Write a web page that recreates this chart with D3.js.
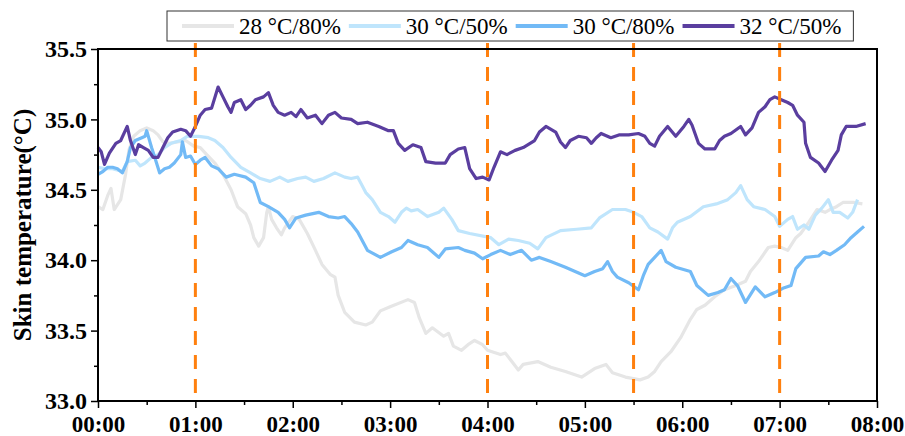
<!DOCTYPE html>
<html>
<head>
<meta charset="utf-8">
<script src="https://cdn.jsdelivr.net/npm/d3@7"></script>
<style>
  body { margin: 0; background: #fff; }
  svg text { font-family: "Liberation Serif", "Times New Roman", serif; }
</style>
</head>
<body>
<div id="chart"></div>
<script>
// time in minutes since 00:00, skin temperature in °C
const t28_80 = [0,3,6,8,10,14,17,19,22,26,30,34,37,40,44,49,54,59,63,67,72,77,82,86,91,94,96,99,102,104,105,107,110,113,115,120,124,129,134,138,143,146,148,152,158,165,169,174,180,191,195,198,202,206,213,216,219,224,228,232,237,240,248,251,255,259,262,271,279,288,298,306,313,317,325,334,339,343,347,353,359,365,369,374,380,386,393,399,402,407,413,417,421,425,430,433,438,443,448,451,455,459,463,466,471];
const v28_80 = [34.38,34.36,34.46,34.51,34.36,34.43,34.61,34.78,34.88,34.92,34.94,34.92,34.89,34.84,34.83,34.84,34.85,34.81,34.80,34.75,34.69,34.61,34.50,34.38,34.33,34.25,34.16,34.10,34.16,34.34,34.38,34.29,34.23,34.18,34.23,34.31,34.29,34.19,34.07,33.97,33.90,33.88,33.75,33.63,33.56,33.54,33.56,33.64,33.67,33.72,33.70,33.59,33.48,33.52,33.46,33.48,33.39,33.36,33.40,33.43,33.40,33.36,33.33,33.34,33.28,33.22,33.26,33.28,33.24,33.21,33.17,33.23,33.26,33.20,33.17,33.15,33.17,33.21,33.28,33.35,33.45,33.58,33.65,33.68,33.74,33.79,33.82,33.85,33.92,33.99,34.09,34.10,34.09,34.07,34.16,34.19,34.27,34.36,34.34,34.36,34.38,34.41,34.41,34.41,34.40];

const t30_50 = [0,4,9,15,18,23,26,29,33,37,41,45,51,55,62,68,72,77,82,88,94,100,106,112,117,123,128,133,139,146,152,156,160,165,169,174,179,183,187,190,193,197,203,210,213,218,222,229,242,247,253,259,266,271,276,285,295,304,309,317,325,330,335,340,345,351,354,357,365,373,381,388,393,396,400,404,411,417,420,425,428,431,435,438,442,446,450,453,457,462,465,468];
const v30_50 = [34.66,34.65,34.65,34.63,34.70,34.71,34.67,34.69,34.73,34.75,34.80,34.83,34.85,34.88,34.88,34.87,34.85,34.80,34.73,34.66,34.62,34.58,34.56,34.59,34.56,34.58,34.59,34.56,34.58,34.62,34.59,34.58,34.59,34.48,34.43,34.34,34.31,34.27,34.34,34.37,34.35,34.36,34.31,34.34,34.37,34.29,34.21,34.19,34.16,34.11,34.15,34.14,34.12,34.08,34.16,34.21,34.22,34.23,34.30,34.36,34.36,34.34,34.31,34.23,34.20,34.15,34.23,34.27,34.31,34.38,34.40,34.43,34.48,34.53,34.43,34.38,34.36,34.31,34.24,34.29,34.31,34.22,34.25,34.22,34.32,34.37,34.43,34.34,34.34,34.30,34.34,34.43];

const t30_80 = [0,3,6,9,12,15,18,20,23,27,29,30,33,35,38,41,44,47,51,52,54,57,60,63,66,70,74,79,84,91,96,100,105,111,115,118,122,128,136,142,148,152,156,160,166,174,181,187,191,197,203,210,214,222,226,232,237,242,248,254,261,267,272,279,288,294,300,306,311,314,317,320,327,333,336,339,343,347,350,356,365,369,376,382,386,390,394,399,405,411,417,422,427,430,436,444,447,451,455,460,464,468,472];
const v30_80 = [34.61,34.63,34.66,34.66,34.65,34.62,34.70,34.80,34.85,34.87,34.88,34.92,34.80,34.73,34.62,34.65,34.66,34.69,34.75,34.84,34.73,34.74,34.68,34.71,34.73,34.67,34.65,34.59,34.61,34.59,34.55,34.41,34.38,34.34,34.29,34.23,34.30,34.32,34.34,34.31,34.30,34.31,34.26,34.20,34.07,34.02,34.06,34.09,34.14,34.11,34.09,34.02,34.08,34.09,34.07,34.05,34.01,34.04,34.07,34.04,34.07,34.00,34.02,33.99,33.95,33.92,33.89,33.92,33.94,33.99,33.92,33.88,33.84,33.79,33.89,33.97,34.02,34.07,33.99,33.95,33.92,33.82,33.75,33.77,33.79,33.87,33.82,33.70,33.81,33.74,33.77,33.80,33.82,33.94,34.02,34.03,34.06,34.04,34.07,34.11,34.16,34.20,34.24];

const t32_50 = [0,2,4,7,11,14,18,20,23,25,28,31,34,37,40,43,46,51,54,57,60,63,66,70,74,77,80,82,84,88,91,94,97,102,105,108,111,115,119,122,125,129,134,138,142,146,150,156,160,166,173,179,182,185,189,194,199,202,208,214,217,222,226,229,233,237,241,244,248,252,257,262,269,272,276,282,285,288,291,296,301,304,307,310,316,321,327,333,337,340,343,346,351,356,361,364,366,370,374,380,383,386,390,396,399,403,407,411,414,417,421,425,428,431,435,436,439,444,448,452,456,458,461,467,473];
const v32_50 = [34.80,34.77,34.68,34.76,34.83,34.85,34.95,34.85,34.75,34.82,34.80,34.78,34.73,34.73,34.80,34.87,34.91,34.93,34.92,34.88,34.95,35.03,35.07,35.08,35.23,35.16,35.09,35.05,35.12,35.14,35.07,35.10,35.14,35.16,35.19,35.10,35.05,35.03,35.05,35.02,35.07,35.01,35.03,34.97,35.03,35.05,35.01,35.00,34.97,34.98,34.95,34.92,34.92,34.83,34.78,34.82,34.80,34.70,34.69,34.69,34.75,34.79,34.80,34.65,34.58,34.59,34.57,34.66,34.77,34.75,34.78,34.80,34.85,34.91,34.95,34.91,34.84,34.80,34.85,34.88,34.87,34.83,34.87,34.90,34.87,34.89,34.89,34.90,34.88,34.83,34.81,34.88,34.95,34.88,34.95,35.00,34.96,34.83,34.79,34.79,34.85,34.88,34.90,34.95,34.89,34.94,35.05,35.09,35.14,35.16,35.14,35.12,35.10,35.03,34.98,34.83,34.73,34.69,34.63,34.71,34.78,34.89,34.95,34.95,34.97];

const seriesNames = ["28 °C/80%", "30 °C/50%", "30 °C/80%", "32 °C/50%"];
const seriesColors = ["#E6E6E6", "#BFE5FC", "#72BAF6", "#5A3E9F"];
const markerTimes = [60, 240, 330, 420];
const xTicks = [0, 60, 120, 180, 240, 300, 360, 420, 480];
const yTicks = [33.0, 33.5, 34.0, 34.5, 35.0, 35.5];

const chartWidth = 905;
const chartHeight = 436;
const margin = {top: 49, right: 28, bottom: 35, left: 98};
const fontFamily = '"Liberation Serif", "Times New Roman", serif';

const series = [
    {name: seriesNames[0], color: seriesColors[0], t: t28_80, v: v28_80},
    {name: seriesNames[1], color: seriesColors[1], t: t30_50, v: v30_50},
    {name: seriesNames[2], color: seriesColors[2], t: t30_80, v: v30_80},
    {name: seriesNames[3], color: seriesColors[3], t: t32_50, v: v32_50}
];

const svg = d3.select('#chart').append('svg')
    .attr('width', chartWidth)
    .attr('height', chartHeight);

const x = d3.scaleLinear()
    .domain([0, 480])
    .range([margin.left, chartWidth - margin.right]);

const y = d3.scaleLinear()
    .domain([33, 35.5])
    .range([chartHeight - margin.bottom, margin.top]);

const fmtTime = m => d3.format('02d')(Math.floor(m / 60)) + ':00';

// minor ticks
svg.append('g')
    .attr('transform', `translate(0,${y(33)})`)
    .call(d3.axisBottom(x).tickValues(d3.range(30, 480, 60)).tickSize(4).tickFormat(''))
    .call(g => g.select('.domain').remove())
    .call(g => g.selectAll('line').attr('stroke-width', 1.5));

svg.append('g')
    .attr('transform', `translate(${x(0)},0)`)
    .call(d3.axisLeft(y).tickValues(d3.range(33.25, 35.5, 0.5)).tickSize(4).tickFormat(''))
    .call(g => g.select('.domain').remove())
    .call(g => g.selectAll('line').attr('stroke-width', 1.5));

// major ticks
svg.append('g')
    .attr('transform', `translate(0,${y(33)})`)
    .call(d3.axisBottom(x).tickValues(xTicks).tickSize(7).tickPadding(8).tickFormat(fmtTime))
    .call(g => g.select('.domain').remove())
    .call(g => g.selectAll('line').attr('stroke-width', 1.5))
    .call(g => g.selectAll('text')
        .attr('font-family', fontFamily)
        .attr('font-size', 23)
        .attr('font-weight', 'bold')
        .attr('fill', '#000'));

svg.append('g')
    .attr('transform', `translate(${x(0)},0)`)
    .call(d3.axisLeft(y).tickValues(yTicks).tickSize(7).tickPadding(4).tickFormat(d3.format('.1f')))
    .call(g => g.select('.domain').remove())
    .call(g => g.selectAll('line').attr('stroke-width', 1.5))
    .call(g => g.selectAll('text')
        .attr('font-family', fontFamily)
        .attr('font-size', 24)
        .attr('font-weight', 'bold')
        .attr('fill', '#000'));

// data lines
const line = d3.line()
    .x(d => x(d[0]))
    .y(d => y(d[1]));

svg.append('g').selectAll('path')
    .data(series)
    .join('path')
    .attr('d', s => line(s.t.map((t, i) => [t, s.v[i]])))
    .attr('fill', 'none')
    .attr('stroke', s => s.color)
    .attr('stroke-width', 3.2)
    .attr('stroke-linejoin', 'round');

// orange dashed markers
svg.append('g').selectAll('line')
    .data(markerTimes)
    .join('line')
    .attr('x1', d => x(d))
    .attr('x2', d => x(d))
    .attr('y1', y(35.5) - 6)
    .attr('y2', y(33))
    .attr('stroke', '#FF800E')
    .attr('stroke-width', 3)
    .attr('stroke-dasharray', '14,10');

// frame
svg.append('rect')
    .attr('x', x(0))
    .attr('y', y(35.5))
    .attr('width', x(480) - x(0))
    .attr('height', y(33) - y(35.5))
    .attr('fill', 'none')
    .attr('stroke', '#000')
    .attr('stroke-width', 2);

// y axis title
svg.append('text')
    .attr('transform', `translate(31,${(y(33) + y(35.5)) / 2}) rotate(-90)`)
    .attr('text-anchor', 'middle')
    .attr('font-family', fontFamily)
    .attr('font-size', 25)
    .attr('font-weight', 'bold')
    .text('Skin temperature(°C)');

// legend
const legend = svg.append('g');
const legendBox = legend.append('rect')
    .attr('fill', '#fff')
    .attr('stroke', '#333')
    .attr('stroke-width', 1);

let lx = 182;
const ly = 26;
series.forEach(s => {
    legend.append('line')
        .attr('x1', lx).attr('x2', lx + 52)
        .attr('y1', ly).attr('y2', ly)
        .attr('stroke', s.color)
        .attr('stroke-width', 4);
    const txt = legend.append('text')
        .attr('x', lx + 57)
        .attr('y', ly + 8)
        .attr('font-family', fontFamily)
        .attr('font-size', 23)
        .text(s.name);
    lx += 57 + txt.node().getComputedTextLength() + 8;
});

legendBox
    .attr('x', 167)
    .attr('y', 11)
    .attr('width', lx + 4 - 167)
    .attr('height', 30);
</script>
</body>
</html>
